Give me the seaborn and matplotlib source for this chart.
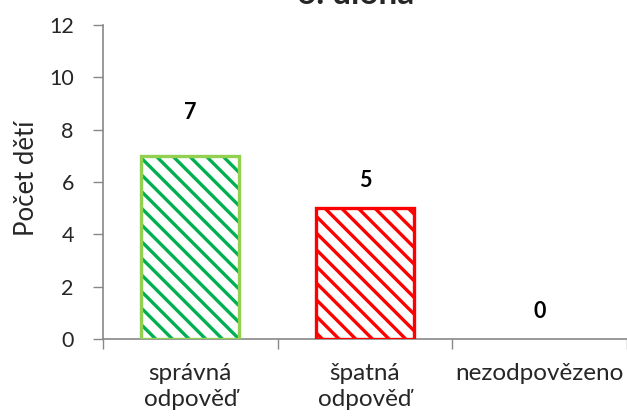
import matplotlib
matplotlib.use("Agg")
import matplotlib.pyplot as plt
import seaborn as sns
import pandas as pd

categories = ["správná\nodpověď", "špatná\nodpověď", "nezodpovězeno"]
values = [7, 5, 0]
hatch_colors = ["#00B050", "#FF0000", "#FF0000"]
edge_colors = ["#92D050", "#FF0000", "#FF0000"]
y_ticks = [0, 2, 4, 6, 8, 10, 12]
label_gap = [1.65, 1.05, 1.05]

sns.set_theme(style="white")
plt.rcParams["font.family"] = ["Lato", "DejaVu Sans"]
plt.rcParams["hatch.linewidth"] = 2.4

df = pd.DataFrame({"odpoved": categories, "pocet": values})

fig = plt.figure(figsize=(6.27, 4.16), dpi=100)
ax = fig.add_axes([103 / 627, (416 - 339) / 416, (627 - 103) / 627, (339 - 25) / 416])

sns.barplot(data=df, x="odpoved", y="pocet", ax=ax, width=0.56,
            fill=False, errorbar=None)

for patch, hc, ec in zip(ax.patches, hatch_colors, edge_colors):
    patch.set_fill(False)
    patch.set_hatch("\\\\")
    patch.set_edgecolor(hc)
    patch.set_linewidth(0)
    # outline drawn above the hatch
    x, y = patch.get_x(), patch.get_y()
    w, h = patch.get_width(), patch.get_height()
    if h > 0:
        ax.add_patch(plt.Rectangle((x, y), w, h, fill=False, edgecolor=ec,
                                   linewidth=2.4, zorder=3))

for i, (v, g) in enumerate(zip(values, label_gap)):
    ax.text(i, v + g, str(v), ha="center", va="center",
            fontsize=15.5, fontweight="bold", color="black")

ax.set_ylim(0, 12)
ax.set_xlim(-0.5, 2.5)
ax.set_yticks(y_ticks)
ax.set_yticklabels([str(t) for t in y_ticks], fontsize=15.5)
ax.set_ylabel("Počet dětí", fontsize=18.5)
ax.yaxis.set_label_coords(-0.122, 0.513)
ax.set_xlabel("")
ax.tick_params(axis="x", labelsize=17.5, length=0, pad=17)
ax.tick_params(axis="y", length=7, width=1, color="#888888", direction="out", left=True, pad=14)
for lbl in ax.get_xticklabels():
    lbl.set_linespacing(1.3)

# category boundary ticks on the x axis
ax.set_xticks([-0.5, 0.5, 1.5, 2.5], minor=True)
ax.tick_params(axis="x", which="minor", length=7, width=1, color="#888888", direction="out", bottom=True)

for side in ["top", "right"]:
    ax.spines[side].set_visible(False)
for side in ["left", "bottom"]:
    ax.spines[side].set_color("#888888")
    ax.spines[side].set_linewidth(1.2)

fig.text(356 / 627, 1 - 4 / 416, "6. úloha", ha="center", va="baseline",
         fontsize=24, fontweight="bold")

fig.savefig("out.png", dpi=100)
